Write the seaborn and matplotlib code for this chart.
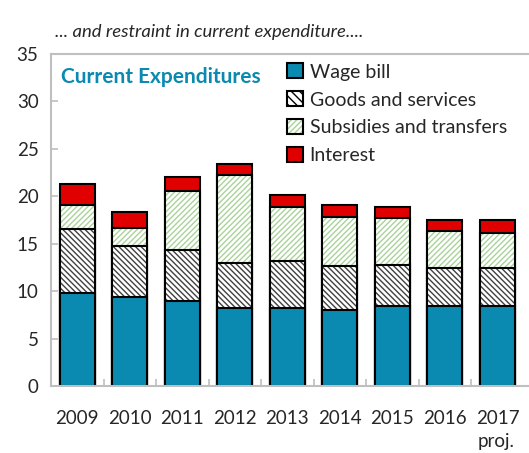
import numpy as np
import pandas as pd
import matplotlib
matplotlib.use('Agg')
import matplotlib.pyplot as plt
import matplotlib.colors as mcolors
from matplotlib.patches import Patch
import seaborn as sns

years = ['2009', '2010', '2011', '2012', '2013', '2014', '2015', '2016', '2017']
wage_bill = [9.8, 9.4, 9.0, 8.25, 8.25, 8.0, 8.4, 8.4, 8.4]
goods_services = [6.7, 5.35, 5.35, 4.75, 4.95, 4.6, 4.35, 4.0, 4.0]
subsidies = [2.55, 1.95, 6.25, 9.2, 5.7, 5.2, 4.95, 3.9, 3.7]
interest = [2.2, 1.6, 1.45, 1.2, 1.2, 1.3, 1.2, 1.2, 1.4]

teal = '#0A8AB0'
red = '#E00000'
green = '#A9D39A'
grey = '#BFBFBF'
hatch_grey = '#404040'

sns.set_theme(style='white')
plt.rcParams['font.family'] = ['Lato', 'DejaVu Sans']
plt.rcParams['hatch.linewidth'] = 1.0

df = pd.DataFrame({'year': years, 'wage': wage_bill, 'goods': goods_services,
                   'subs': subsidies, 'interest': interest})
df['c_goods'] = df['wage'] + df['goods']
df['c_subs'] = df['c_goods'] + df['subs']
df['c_int'] = df['c_subs'] + df['interest']

fig = plt.figure(figsize=(5.29, 4.53), dpi=100)
ax = fig.add_axes([51 / 529, 67 / 453, 478 / 529, 332 / 453])

bw = 0.667
sns.barplot(data=df, x='year', y='c_int', color=red, saturation=1, width=bw,
            edgecolor='black', linewidth=1.5, ax=ax)
n0 = len(ax.patches)
sns.barplot(data=df, x='year', y='c_subs', color='white', saturation=1, width=bw,
            edgecolor='black', linewidth=1.5, hatch='//////', ax=ax)
n1 = len(ax.patches)
for p in ax.patches[n0:n1]:
    p._hatch_color = mcolors.to_rgba(green)
sns.barplot(data=df, x='year', y='c_goods', color='white', saturation=1, width=bw,
            edgecolor='black', linewidth=1.5, hatch='\\\\\\\\\\\\', ax=ax)
n2 = len(ax.patches)
for p in ax.patches[n1:n2]:
    p._hatch_color = mcolors.to_rgba(hatch_grey)
sns.barplot(data=df, x='year', y='wage', color=teal, saturation=1, width=bw,
            edgecolor='black', linewidth=1.5, ax=ax)

ax.set_ylim(0, 35)
ax.set_xlim(-0.5, 8.6)
ax.set_yticks(np.arange(0, 36, 5))
ax.set_xlabel('')
ax.set_ylabel('')
for s in ['left', 'bottom', 'top']:
    ax.spines[s].set_color(grey)
    ax.spines[s].set_linewidth(1.5)
ax.spines['right'].set_visible(False)
ax.tick_params(axis='y', direction='in', length=5, width=1.2, color=grey,
               labelsize=13.5, pad=9, left=True)
ax.tick_params(axis='x', which='major', length=0, labelsize=13.5, pad=17)
ax.set_xticks(np.arange(0.5, 8, 1), minor=True)
ax.tick_params(axis='x', which='minor', direction='in', length=5, width=1.2,
               color=grey, bottom=True)
ax.text(8.33, -5.85, 'proj.', ha='right', va='center', fontsize=13.5)

fig.text(55 / 529, 1 - 32 / 453, '... and restraint in current expenditure....',
         fontsize=13.3, style='italic', ha='left', va='center')
ax.text(0.021, 0.93, 'Current Expenditures', transform=ax.transAxes,
        fontsize=15, fontweight='bold', color=teal, ha='left', va='center')

handles = [
    Patch(facecolor=teal, edgecolor='black', linewidth=1.5, label='Wage bill'),
    Patch(facecolor='white', edgecolor='black', linewidth=1.5, hatch='\\\\\\\\',
          label='Goods and services'),
    Patch(facecolor='white', edgecolor='black', linewidth=1.5, hatch='//////',
          label='Subsidies and transfers'),
    Patch(facecolor=red, edgecolor='black', linewidth=1.5, label='Interest'),
]
leg = ax.legend(handles=handles, loc='upper left', bbox_to_anchor=(0.478, 0.995),
                frameon=False, fontsize=14, handlelength=0.8, handleheight=0.8,
                handletextpad=0.35, labelspacing=0.55, borderaxespad=0)
leg.get_patches()[2]._hatch_color = mcolors.to_rgba(green)

fig.savefig('out.png', dpi=100)
